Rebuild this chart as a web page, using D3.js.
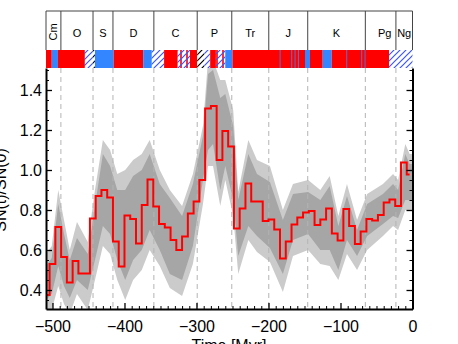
<!DOCTYPE html>
<html>
<head>
<meta charset="utf-8">
<script src="https://cdn.jsdelivr.net/npm/d3@7"></script>
<style>
  body { margin: 0; background: #fff; }
  svg { display: block; font-family: "Liberation Sans", Arial, sans-serif; }
</style>
</head>
<body>
<svg width="458" height="344"></svg>
<script>
let width = 458;
let height = 344;

// geological periods (GTS 2004 boundaries, Myr)
let periods = ['Cm', 'O', 'S', 'D', 'C', 'P', 'Tr', 'J', 'K', 'Pg', 'Ng'];
let periodStart = [-542, -488.3, -443.7, -416, -359.2, -299, -251, -199.6, -145.5, -65.5, -23.03];

// supernova rate, 8 Myr bins (bin start)
let ages = [-512, -504, -496, -488, -480, -472, -464, -456,
            -448, -440, -432, -424, -416, -408, -400, -392,
            -384, -376, -368, -360, -352, -344, -336, -328,
            -320, -312, -304, -296, -288, -280, -272, -264,
            -256, -248, -240, -232, -224, -216, -208, -200,
            -192, -184, -176, -168, -160, -152, -144, -136,
            -128, -120, -112, -104, -96, -88, -80, -72,
            -64, -56, -48, -40, -32, -24, -16, -8];
let lastAge = -4;
let snRate = [0.375, 0.53, 0.715, 0.565, 0.437, 0.545, 0.483, 0.483,
              0.758, 0.87, 0.9, 0.863, 0.642, 0.517, 0.772, 0.755,
              0.633, 0.825, 0.953, 0.817, 0.73, 0.713, 0.65, 0.6,
              0.667, 0.783, 0.842, 0.95, 1.308, 1.32, 1.05, 1.195,
              1.117, 0.708, 0.808, 0.933, 0.842, 0.842, 0.745, 0.753,
              0.703, 0.558, 0.642, 0.728, 0.763, 0.787, 0.795, 0.725,
              0.753, 0.808, 0.683, 0.647, 0.805, 0.72, 0.63, 0.692,
              0.755, 0.747, 0.775, 0.837, 0.853, 0.82, 1.037, 0.978];

// uncertainty bands
let bandAge = [-509, -501, -492, -484, -476, -466, -451, -441, -430, -420,
               -410, -399, -388, -376, -365, -351, -337, -320, -305, -291,
               -284, -277, -267, -260, -249, -242, -228, -216, -198, -180,
               -166, -145, -128, -115, -103, -91, -77, -63, -41, -27,
               -20, -10, -4, 0];
let hi2 = [0.58, 0.62, 0.90, 0.75, 0.60, 0.74, 0.64, 0.90, 1.15, 1.10,
           0.98, 1.00, 1.05, 1.08, 1.15, 1.00, 0.90, 0.82, 0.98, 1.22,
           1.55, 1.55, 1.45, 1.45, 1.30, 0.89, 1.15, 1.05, 1.02, 0.80,
           0.93, 0.95, 0.90, 0.97, 0.77, 0.93, 0.75, 0.88, 0.93, 0.98,
           0.95, 1.13, 1.08, 1.08];
let hi1 = [0.52, 0.56, 0.83, 0.68, 0.55, 0.66, 0.58, 0.82, 1.08, 1.02,
           0.90, 0.90, 0.97, 1.00, 1.08, 0.93, 0.86, 0.77, 0.93, 1.17,
           1.48, 1.50, 1.36, 1.38, 1.22, 0.85, 1.08, 0.98, 0.94, 0.75,
           0.88, 0.89, 0.85, 0.92, 0.72, 0.87, 0.70, 0.83, 0.88, 0.93,
           0.90, 1.08, 1.03, 1.03];
let lo1 = [0.35, 0.38, 0.52, 0.42, 0.36, 0.45, 0.40, 0.55, 0.72, 0.68,
           0.55, 0.45, 0.55, 0.60, 0.70, 0.60, 0.48, 0.45, 0.62, 0.95,
           1.10, 1.13, 0.90, 1.02, 0.85, 0.57, 0.72, 0.67, 0.61, 0.48,
           0.65, 0.68, 0.60, 0.60, 0.50, 0.65, 0.57, 0.67, 0.73, 0.77,
           0.76, 0.85, 0.85, 0.85];
let lo2 = [0.30, 0.30, 0.42, 0.33, 0.28, 0.38, 0.30, 0.45, 0.62, 0.58,
           0.45, 0.35, 0.45, 0.50, 0.60, 0.52, 0.41, 0.37, 0.53, 0.83,
           1.02, 1.02, 0.82, 0.95, 0.77, 0.48, 0.65, 0.59, 0.54, 0.39,
           0.57, 0.60, 0.53, 0.52, 0.45, 0.58, 0.50, 0.60, 0.67, 0.72,
           0.70, 0.80, 0.80, 0.80];

// colour strip under the period names
let stripFrom = [-509, -501, -492.4, -455, -444, -441, -415, -374, -362, -345, -326, -309, -299, -289, -281, -273, -260,
                 -250, -184.5, -168.3, -163.7, -159.1, -149.3, -142.4, -124.7, -112.2, -91.9, -71.1, -66.5, -32.6];
let stripTo   = [-501, -492.4, -455, -444, -441, -415, -374, -362, -345, -326, -309, -299, -289, -281, -273, -260, -250,
                 -149.3, -183.3, -167.1, -162.5, -157.9, -142.4, -124.7, -112.2, -32.6, -90.7, -69.9, -65.3, 0];
let stripKind = ['r', 'b', 'r', 'hb', 'hk', 'b', 'r', 'b', 'hb', 'r', 'hrb', 'r', 'hk', 'hb', 'r', 'hrb', 'b',
                 'r', 'b', 'b', 'b', 'b', 'b', 'r', 'b', 'r', 'b', 'b', 'b', 'hb'];

let yMajor = [0.4, 0.6, 0.8, 1.0, 1.2, 1.4];
let xMajor = [-500, -400, -300, -200, -100, 0];

let x = d3.scaleLinear().domain([-509, 0]).range([46, 412.5]);
let y = d3.scaleLinear().domain([0.305, 1.51]).range([309, 68]);

let svg = d3.select('svg');

let defs = svg.append('defs');
defs.append('clipPath').attr('id', 'plot')
  .append('rect').attr('x', 46).attr('y', 68).attr('width', 366.5).attr('height', 241);

function hatch(id, bg, col, extra) {
  let p = defs.append('pattern').attr('id', id)
    .attr('patternUnits', 'userSpaceOnUse').attr('width', 6).attr('height', 6);
  p.append('rect').attr('width', 6).attr('height', 6).attr('fill', bg);
  if (extra) p.append('rect').attr('x', 0).attr('width', 2).attr('height', 6).attr('fill', extra);
  p.append('path').attr('d', 'M0,6 L6,0 M-1,1 L1,-1 M5,7 L7,5')
    .attr('stroke', col).attr('stroke-width', 1.2);
}
hatch('hatch-blue', '#fff', '#3a55ff');
hatch('hatch-black', '#fff', '#000');
hatch('hatch-mix', '#fff', '#3a55ff', '#ff3030');

let kindFill = { r: '#ff0000', b: '#3386ff', hb: 'url(#hatch-blue)', hk: 'url(#hatch-black)', hrb: 'url(#hatch-mix)' };

// period boxes
let pEnd = periodStart.slice(1).concat([0]);
let pg = svg.append('g');
pg.append('line').attr('x1', 46).attr('x2', 412.5).attr('y1', 11).attr('y2', 11)
  .attr('stroke', '#444').attr('stroke-width', 1);
pg.selectAll('line.sep')
  .data(periodStart.map(d => Math.max(d, -509)).concat([0]))
  .enter()
    .append('line')
    .attr('class', 'sep')
    .attr('x1', d => x(d)).attr('x2', d => x(d))
    .attr('y1', 11).attr('y2', 50)
    .attr('stroke', '#444').attr('stroke-width', 1);
pg.selectAll('text')
  .data(periods)
  .enter()
    .append('text')
    .attr('font-size', 11)
    .attr('text-anchor', 'middle')
    .attr('transform', (d, i) => {
      let cx = x((Math.max(periodStart[i], -509) + pEnd[i]) / 2);
      if (d === 'Pg') cx += 4;
      return d === 'Cm' ? `translate(${cx + 4},32) rotate(-90)` : `translate(${cx},37)`;
    })
    .text(d => d);

// colour strip
svg.append('g').selectAll('rect')
  .data(stripKind)
  .enter()
    .append('rect')
    .attr('x', (d, i) => x(stripFrom[i]))
    .attr('width', (d, i) => x(stripTo[i]) - x(stripFrom[i]))
    .attr('y', 50).attr('height', 18)
    .attr('fill', d => kindFill[d]);

// bands
let plot = svg.append('g').attr('clip-path', 'url(#plot)');
let outer = d3.area().x((d, i) => x(bandAge[i])).y0((d, i) => y(lo2[i])).y1((d, i) => y(hi2[i]));
let inner = d3.area().x((d, i) => x(bandAge[i])).y0((d, i) => y(lo1[i])).y1((d, i) => y(hi1[i]));
plot.append('path').attr('d', outer(bandAge)).attr('fill', '#cbcbcb');
plot.append('path').attr('d', inner(bandAge)).attr('fill', '#a6a6a6');

// period boundaries
plot.selectAll('line.bound')
  .data(periodStart.slice(1))
  .enter()
    .append('line')
    .attr('class', 'bound')
    .attr('x1', d => x(d)).attr('x2', d => x(d))
    .attr('y1', 68).attr('y2', 309)
    .attr('stroke', '#b4b4b4').attr('stroke-width', 1)
    .attr('stroke-dasharray', '5,4');

// step line
let pts = ages.map((a, i) => [a, snRate[i]]).concat([[lastAge, snRate[snRate.length - 1]]]);
plot.append('path')
  .attr('d', d3.line().x(d => x(d[0])).y(d => y(d[1])).curve(d3.curveStepAfter)(pts))
  .attr('fill', 'none')
  .attr('stroke', '#ff0000')
  .attr('stroke-width', 2);

// axes
let yMinor = d3.range(0.35, 1.51, 0.05).filter(v => !yMajor.some(m => Math.abs(m - v) < 1e-6));
let xMinor = d3.range(-500, 1, 10).filter(v => v % 100 !== 0);

function styleAxis(g) {
  g.select('.domain').attr('stroke-width', 2);
  g.selectAll('.tick line').attr('stroke-width', 1.3);
  g.selectAll('text').attr('font-size', 16).attr('fill', '#000')
    .attr('font-family', '"Liberation Sans", Arial, sans-serif');
}

svg.append('g').attr('transform', 'translate(46,0)')
  .call(d3.axisLeft(y).tickValues(yMajor).tickFormat(d3.format('.1f')).tickSize(-6).tickSizeOuter(0).tickPadding(4))
  .call(styleAxis);
svg.append('g').attr('transform', 'translate(46,0)')
  .call(d3.axisLeft(y).tickValues(yMinor).tickFormat('').tickSize(-3).tickSizeOuter(0))
  .call(g => g.select('.domain').remove());
svg.append('g').attr('transform', 'translate(412.5,0)')
  .call(d3.axisRight(y).tickValues(yMajor).tickFormat('').tickSize(-6).tickSizeOuter(0))
  .call(styleAxis);
svg.append('g').attr('transform', 'translate(412.5,0)')
  .call(d3.axisRight(y).tickValues(yMinor).tickFormat('').tickSize(-3).tickSizeOuter(0))
  .call(g => g.select('.domain').remove());
svg.append('g').attr('transform', 'translate(0,309)')
  .call(d3.axisBottom(x).tickValues(xMajor).tickSize(-6).tickSizeOuter(0).tickPadding(12))
  .call(styleAxis);
svg.append('g').attr('transform', 'translate(0,309)')
  .call(d3.axisBottom(x).tickValues(xMinor).tickFormat('').tickSize(-3).tickSizeOuter(0))
  .call(g => g.select('.domain').remove());

// axis titles (partly cut by the frame, as in the original figure)
svg.append('text')
  .attr('transform', 'translate(6,190) rotate(-90)')
  .attr('text-anchor', 'middle')
  .attr('font-size', 16)
  .text('SN(t)/SN(0)');
svg.append('text')
  .attr('x', 229).attr('y', 351)
  .attr('text-anchor', 'middle')
  .attr('font-size', 16)
  .text('Time [Myr]');
</script>
</body>
</html>
